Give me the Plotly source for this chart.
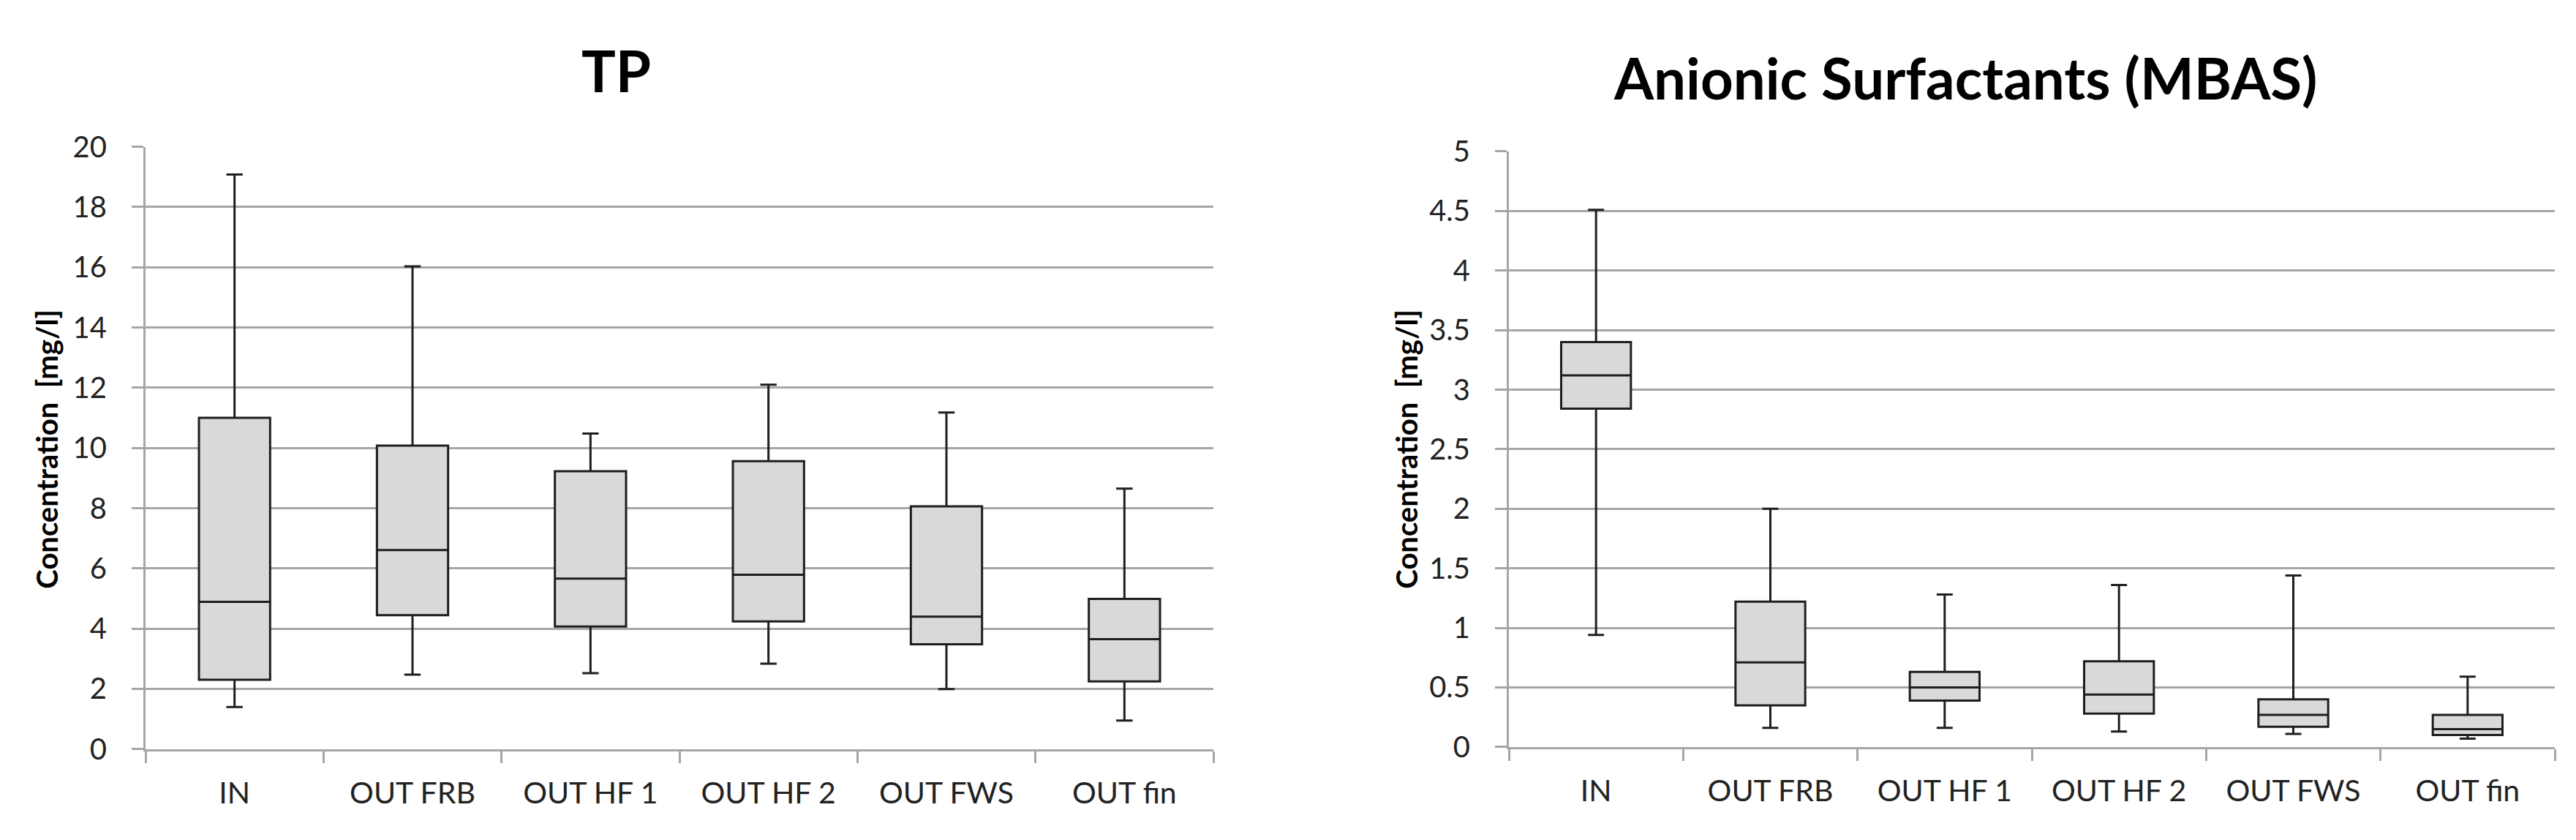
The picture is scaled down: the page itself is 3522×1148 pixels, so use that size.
import plotly.graph_objects as go

W, H = 3522, 1148

categories = ["IN", "OUT FRB", "OUT HF 1", "OUT HF 2", "OUT FWS", "OUT fin"]

# TP [mg/l]
tp_low = [1.40, 2.47, 2.52, 2.84, 1.99, 0.95]
tp_q1 = [2.30, 4.45, 4.07, 4.24, 3.48, 2.25]
tp_med = [4.89, 6.61, 5.66, 5.79, 4.40, 3.65]
tp_q3 = [11.00, 10.08, 9.23, 9.56, 8.06, 4.99]
tp_high = [19.08, 16.03, 10.48, 12.10, 11.18, 8.65]

# Anionic surfactants (MBAS) [mg/l]
mbas_low = [0.94, 0.16, 0.16, 0.13, 0.11, 0.07]
mbas_q1 = [2.84, 0.35, 0.39, 0.28, 0.17, 0.10]
mbas_med = [3.12, 0.71, 0.50, 0.44, 0.27, 0.15]
mbas_q3 = [3.40, 1.22, 0.63, 0.72, 0.40, 0.27]
mbas_high = [4.51, 2.00, 1.28, 1.36, 1.44, 0.59]

tp_ticks = [0, 2, 4, 6, 8, 10, 12, 14, 16, 18, 20]
mbas_ticks = [0, 0.5, 1, 1.5, 2, 2.5, 3, 3.5, 4, 4.5, 5]
mbas_ticktext = ["0", "0.5", "1", "1.5", "2", "2.5", "3", "3.5", "4", "4.5", "5"]

titles = ["TP", "Anionic Surfactants (MBAS)"]
ytitle = "Concentration  [mg/l]"

FONT = "Lato, 'Open Sans', sans-serif"
TITLE_FONT = "'Liberation Sans Narrow', Lato, sans-serif"
GRID = "#a6a6a6"
BOXLINE = "#1e1e1e"
FILL = "#d9d9d9"


def px(x):
    return x / W


def py(y):
    return 1 - y / H


fig = go.Figure()

for i, (lo, q1, med, q3, hi) in enumerate([
    (tp_low, tp_q1, tp_med, tp_q3, tp_high),
    (mbas_low, mbas_q1, mbas_med, mbas_q3, mbas_high),
]):
    suffix = "" if i == 0 else "2"
    fig.add_trace(go.Box(
        x=categories, q1=q1, median=med, q3=q3,
        lowerfence=lo, upperfence=hi,
        xaxis="x" + suffix, yaxis="y" + suffix,
        width=0.4, whiskerwidth=0.23,
        fillcolor=FILL, line=dict(color=BOXLINE, width=3),
        boxpoints=False, showlegend=False, hoverinfo="skip",
    ))

xcommon = dict(
    type="category", categoryorder="array", categoryarray=categories,
    range=[-0.5, 5.5], tickson="boundaries", ticks="outside", ticklen=16,
    tickwidth=3, tickcolor=GRID, showline=True, linecolor=GRID, linewidth=3,
    showgrid=False, zeroline=False,
    tickfont=dict(family=FONT, size=41, color="#222222"),
    ticklabelstandoff=22,
)
ycommon = dict(
    ticks="outside", ticklen=16, tickwidth=3, tickcolor=GRID,
    showline=True, linecolor=GRID, linewidth=3,
    showgrid=True, gridcolor=GRID, gridwidth=2.5, zeroline=False,
    tickfont=dict(family=FONT, size=40, color="#222222"),
    ticklabelstandoff=26,
)

fig.update_layout(
    width=W, height=H,
    margin=dict(l=0, r=0, t=0, b=0),
    paper_bgcolor="white", plot_bgcolor="white",
    xaxis=dict(domain=[px(191), px(1651)], anchor="y", **xcommon),
    yaxis=dict(domain=[py(1034), py(175)], anchor="x", range=[0, 20],
               tickvals=tp_ticks, **ycommon),
    xaxis2=dict(domain=[px(2055), px(3485)], anchor="y2", **xcommon),
    yaxis2=dict(domain=[py(1031), py(181.5)], anchor="x2", range=[0, 5],
                tickvals=mbas_ticks, ticktext=mbas_ticktext, **ycommon),
)

annotations = [
    dict(text="<b>" + titles[0] + "</b>", x=px(834), y=py(66), xref="paper", yref="paper",
         xanchor="center", yanchor="middle", showarrow=False,
         font=dict(family=TITLE_FONT, size=78, color="black")),
    dict(text="<b>" + titles[1] + "</b>", x=px(2679), y=py(76), xref="paper", yref="paper",
         xanchor="center", yanchor="middle", showarrow=False,
         font=dict(family=TITLE_FONT, size=78, color="black")),
    dict(text="<b>" + ytitle + "</b>", x=px(56), y=py(606), xref="paper", yref="paper",
         xanchor="center", yanchor="middle", showarrow=False, textangle=-90,
         font=dict(family=FONT, size=40, color="black")),
    dict(text="<b>" + ytitle + "</b>", x=px(1915), y=py(606), xref="paper", yref="paper",
         xanchor="center", yanchor="middle", showarrow=False, textangle=-90,
         font=dict(family=FONT, size=40, color="black")),
]
fig.update_layout(annotations=annotations)

fig.write_html("out.html")
